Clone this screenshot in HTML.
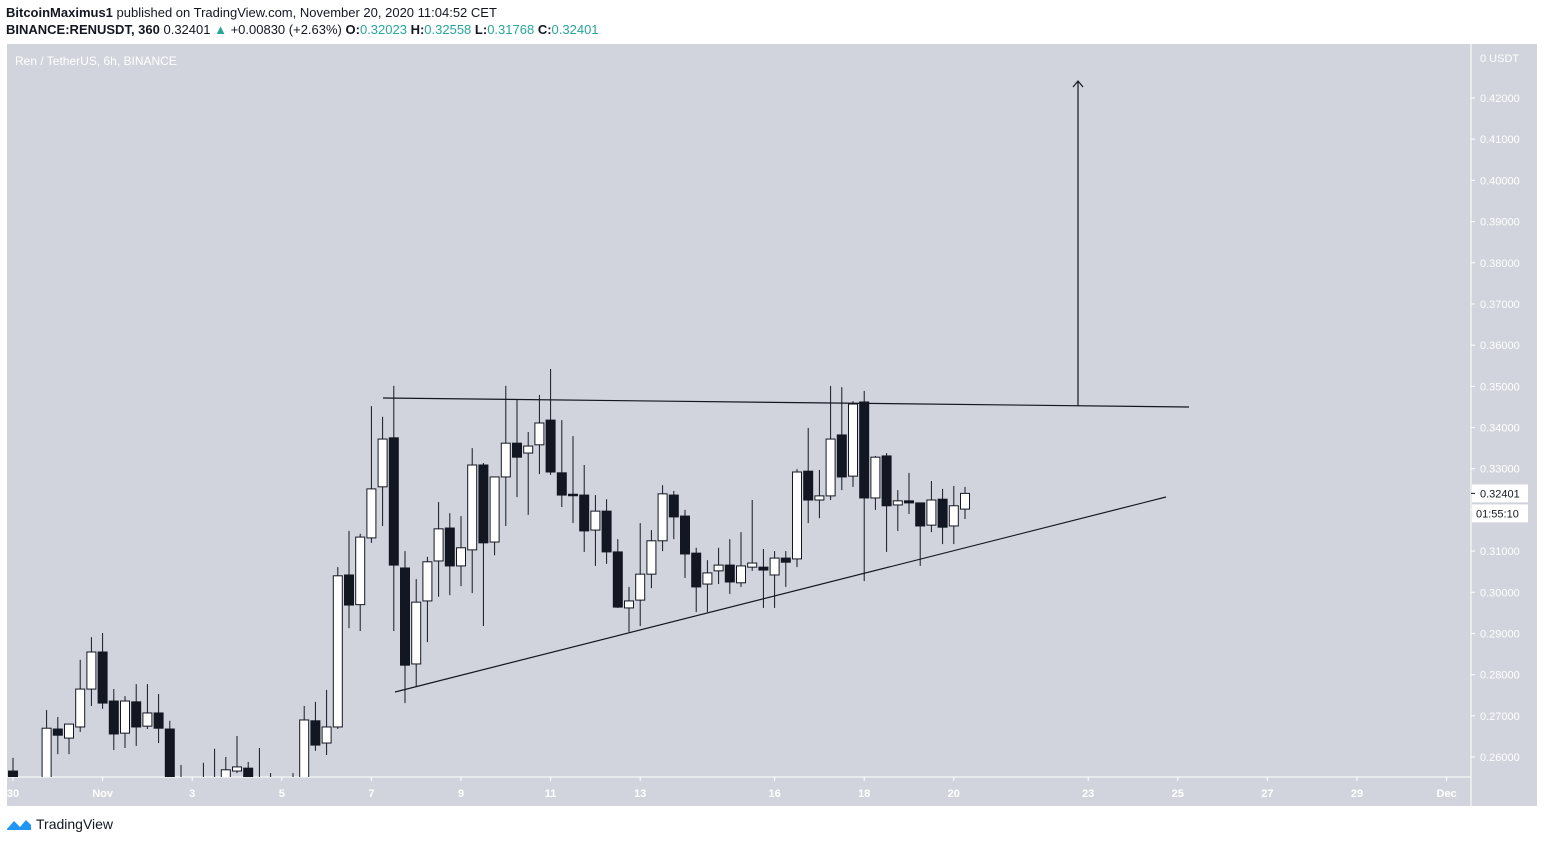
<!DOCTYPE html>
<html><head><meta charset="utf-8">
<style>
body{margin:0;background:#fff;width:1544px;height:843px;overflow:hidden;font-family:"Liberation Sans",sans-serif}
#hdr1{position:absolute;left:6px;top:5px;font-size:13px;color:#131722;white-space:nowrap}
#hdr2{position:absolute;left:6px;top:22px;font-size:13px;color:#131722;white-space:nowrap}
.g{color:#26a69a}
svg{position:absolute;left:0;top:0}
#logo{position:absolute;left:6px;top:816px;font-size:14px;color:#131722;display:flex;align-items:center;gap:4px}
</style></head><body>
<div id="hdr1"><b>BitcoinMaximus1</b> published on TradingView.com, November 20, 2020 11:04:52 CET</div>
<div id="hdr2"><b>BINANCE:RENUSDT, 360</b> 0.32401 <span class="g">▲</span> +0.00830 (+2.63%) <b>O:</b><span class="g">0.32023</span> <b>H:</b><span class="g">0.32558</span> <b>L:</b><span class="g">0.31768</span> <b>C:</b><span class="g">0.32401</span></div>
<svg id="chart" width="1544" height="843"></svg>
<div id="logo"><svg width="26" height="14" style="position:static"><path d="M1 12 L8 4 L14 10 L20 3 L25 8 L25 13 L1 13Z" fill="#2196f3"/></svg>TradingView</div>
<script>
const opens=[0.2566,0.25,0.25,0.250,0.2668,0.2646,0.2673,0.2765,0.2855,0.2736,0.2658,0.2734,0.2675,0.2707,0.2668,0.252,0.252,0.252,0.252,0.254,0.2566,0.2573,0.252,0.252,0.252,0.252,0.254,0.2688,0.2634,0.2673,0.3042,0.297,0.3132,0.3256,0.3375,0.3059,0.2826,0.2979,0.3076,0.3156,0.3064,0.3103,0.3309,0.3122,0.3280,0.3362,0.3338,0.3358,0.3418,0.3290,0.3238,0.3236,0.3151,0.3197,0.3098,0.2962,0.2981,0.3044,0.3125,0.3236,0.3185,0.3095,0.3020,0.3052,0.3066,0.3023,0.3061,0.3061,0.3042,0.3083,0.3081,0.3294,0.3224,0.3234,0.3382,0.3282,0.3462,0.3229,0.3331,0.3212,0.3222,0.3217,0.3163,0.3226,0.3161,0.3202];
const highs=[0.2598,0.252,0.252,0.2714,0.2697,0.2680,0.2836,0.2891,0.2901,0.2765,0.2748,0.2777,0.2777,0.2753,0.2688,0.2581,0.254,0.2586,0.2620,0.2600,0.2651,0.2588,0.2622,0.2561,0.253,0.2561,0.2724,0.2734,0.2763,0.3061,0.3149,0.3142,0.3452,0.3426,0.3501,0.3100,0.3032,0.3086,0.3219,0.3192,0.3185,0.3350,0.3314,0.3280,0.3501,0.3469,0.3389,0.3479,0.3542,0.3418,0.3379,0.3309,0.3236,0.3226,0.3129,0.3013,0.3168,0.3151,0.3260,0.3246,0.3200,0.3108,0.3078,0.3108,0.3129,0.3146,0.3224,0.3105,0.3100,0.3100,0.3299,0.3399,0.3297,0.3501,0.3498,0.3464,0.3489,0.3331,0.3338,0.3248,0.3290,0.3217,0.3270,0.3251,0.3258,0.3256];
const lows=[0.252,0.248,0.248,0.248,0.2607,0.2607,0.2661,0.2724,0.2717,0.2617,0.2622,0.2627,0.2668,0.2634,0.248,0.248,0.248,0.248,0.248,0.252,0.2561,0.252,0.248,0.248,0.248,0.248,0.252,0.2615,0.2605,0.2668,0.2913,0.2906,0.3120,0.3161,0.2906,0.2731,0.2770,0.2879,0.2989,0.2993,0.3015,0.2998,0.2918,0.3090,0.3161,0.3231,0.3188,0.3287,0.3285,0.3207,0.3168,0.3098,0.3064,0.3069,0.2962,0.2904,0.2918,0.3010,0.3100,0.3129,0.3035,0.2952,0.2952,0.3020,0.2996,0.3013,0.3052,0.2962,0.2962,0.3013,0.3061,0.3168,0.3180,0.3224,0.3248,0.3256,0.3027,0.3200,0.3098,0.3149,0.3190,0.3064,0.3146,0.3117,0.3117,0.3178];
const closes=[0.254,0.251,0.251,0.2670,0.2653,0.2680,0.2765,0.2855,0.2731,0.2656,0.2736,0.2673,0.2707,0.2670,0.252,0.251,0.251,0.251,0.251,0.2569,0.2576,0.254,0.251,0.251,0.251,0.251,0.2690,0.2629,0.2673,0.3040,0.2969,0.3134,0.3251,0.3372,0.3066,0.2823,0.2976,0.3074,0.3154,0.3064,0.3108,0.3309,0.3120,0.3280,0.3362,0.3328,0.3355,0.3411,0.3292,0.3236,0.3236,0.3149,0.3197,0.3098,0.2964,0.2979,0.3044,0.3125,0.3239,0.3183,0.3093,0.3013,0.3047,0.3066,0.3025,0.3064,0.3071,0.3054,0.3083,0.3073,0.3292,0.3224,0.3234,0.3372,0.3280,0.3457,0.3229,0.3328,0.3210,0.3222,0.3217,0.3161,0.3224,0.3158,0.3210,0.32401];
const priceTicks=[0.42,0.41,0.40,0.39,0.38,0.37,0.36,0.35,0.34,0.33,0.32,0.31,0.30,0.29,0.28,0.27,0.26];
const dateLabels=["30","Nov","3","5","7","9","11","13","16","18","20","23","25","27","29","Dec"];
const dateDays=[0,2,4,6,8,10,12,14,17,19,21,24,26,28,30,32];
const lastPrice=0.32401;

const NS="http://www.w3.org/2000/svg";
const svg=document.getElementById('chart');
const PL=7,PR=1537,PT=44,PB=806,AX=1471,XB=777;
const y=p=>98+(0.42-p)*4119;
const xi=i=>13+i*11.2;
const xd=d=>13+d*44.8;
function mk(t,a,parent){const e=document.createElementNS(NS,t);for(const k in a)e.setAttribute(k,a[k]);(parent||svg).appendChild(e);return e;}
const bg=mk('rect',{x:PL,y:PT,width:PR-PL,height:PB-PT,fill:'#d1d4dc'});


const defs=mk('defs',{});
const cp=mk('clipPath',{id:'clip'},defs);mk('rect',{x:PL,y:PT,width:AX-PL,height:XB-PT},cp);
mk('line',{x1:AX,y1:PT,x2:AX,y2:PB,stroke:'#fff','stroke-width':1});
mk('line',{x1:PL,y1:XB,x2:AX,y2:XB,stroke:'#fff','stroke-width':1});
const t0=mk('text',{x:15,y:65,fill:'#fff','font-size':12,'font-family':'Liberation Sans'});t0.textContent='Ren / TetherUS, 6h, BINANCE';


const u=mk('text',{x:1480,y:62,fill:'#fff','font-size':11,'font-family':'Liberation Sans'});u.textContent='0 USDT';


priceTicks.forEach(p=>{
  mk('line',{x1:AX,y1:y(p),x2:AX+4,y2:y(p),stroke:'#fff'});
  const t=mk('text',{x:1480,y:y(p)+4,fill:'#fff','font-size':11,'font-family':'Liberation Sans'});
  t.textContent=p.toFixed(5);
  
  
});
dateLabels.forEach((l,k)=>{
  const x=xd(dateDays[k]);
  mk('line',{x1:x,y1:XB,x2:x,y2:XB+4,stroke:'#fff'});
  const t=mk('text',{x:x,y:797,fill:'#fff','font-size':11,'font-weight':'bold','text-anchor':'middle','font-family':'Liberation Sans'});
  t.textContent=l;
  
  
});
const g=mk('g',{'clip-path':'url(#clip)'});
opens.forEach((o,i)=>{
  const c=closes[i],x=xi(i),up=c>=o;
  mk('line',{x1:x,y1:y(highs[i]),x2:x,y2:y(lows[i]),stroke:'#131722','stroke-width':1},g);
  const top=y(Math.max(o,c)),h=Math.max(1.5,Math.abs(y(o)-y(c)));
  const r=mk('rect',{x:x-4.5,y:top,width:9,height:h,fill:up?'#fff':'#131722',stroke:'#131722','stroke-width':1},g);
  
  
});
const res=mk('line',{x1:383,y1:398,x2:1189,y2:407,stroke:'#131722','stroke-width':1.2});


const sup=mk('line',{x1:395,y1:692,x2:1166,y2:497,stroke:'#131722','stroke-width':1.2});


const arr=mk('path',{d:'M1078 406 L1078 81 M1073 87 L1078 81 L1083 87',stroke:'#131722','stroke-width':1.2,fill:'none'});


const ly=y(lastPrice);
const lb=mk('rect',{x:1472,y:ly-9,width:56,height:18,fill:'#fff'});


mk('line',{x1:AX,y1:ly,x2:AX+4,y2:ly,stroke:'#131722'});
const lt=mk('text',{x:1480,y:ly+4,fill:'#131722','font-size':11,'font-family':'Liberation Sans'});lt.textContent=lastPrice.toFixed(5);
const cb=mk('rect',{x:1472,y:ly+11,width:56,height:18,fill:'#fff'});


const ct=mk('text',{x:1476,y:ly+24,fill:'#131722','font-size':11,'font-family':'Liberation Sans'});ct.textContent='01:55:10';
</script>
</body></html>
